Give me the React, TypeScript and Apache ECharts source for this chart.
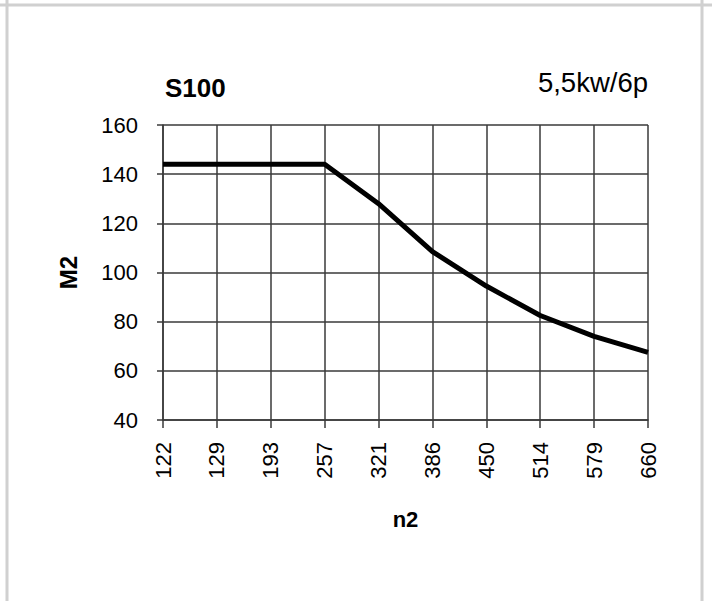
import React, { useEffect, useRef } from "react";
import * as echarts from "echarts";

const categories = ["122", "129", "193", "257", "321", "386", "450", "514", "579", "660"];
const m2Values = [144, 144, 144, 144, 128, 108.5, 94.5, 82.5, 74, 67.5];
const yMin = 40;
const yMax = 160;
const yStep = 20;
const titleLeft = "S100";
const titleRight = "5,5kw/6p";
const xName = "n2";
const yName = "M2";

const FONT = "Liberation Sans, Arial, sans-serif";

export default function App() {
  const ref = useRef<HTMLDivElement>(null);
  useEffect(() => {
    if (!ref.current) return;
    const chart = echarts.init(ref.current, undefined, { renderer: "svg" });
    const gridColor = "#3a3a3a";
    chart.setOption({
      animation: false,
      backgroundColor: "#ffffff",
      textStyle: { fontFamily: FONT },
      title: [
        {
          text: titleLeft,
          left: 165,
          top: 75,
          padding: 0,
          textStyle: { fontFamily: FONT, fontSize: 26, fontWeight: "bold", color: "#000" },
        },
        {
          text: titleRight,
          right: 64,
          top: 68,
          padding: 0,
          textStyle: { fontFamily: FONT, fontSize: 27.5, fontWeight: "normal", color: "#000" },
        },
      ],
      grid: { left: 163, right: 64, top: 125, bottom: 181, containLabel: false },
      xAxis: {
        type: "category",
        data: categories,
        boundaryGap: false,
        name: xName,
        nameLocation: "middle",
        nameGap: 88,
        nameTextStyle: { fontFamily: FONT, fontSize: 22, fontWeight: "bold", color: "#000" },
        axisLine: { show: true, lineStyle: { color: gridColor, width: 1.5 } },
        axisTick: { show: true, length: 8, interval: 0, lineStyle: { color: gridColor, width: 1.5 } },
        axisLabel: { rotate: 90, fontSize: 22, color: "#000", margin: 22, interval: 0, fontFamily: FONT },
        splitLine: { show: true, interval: 0, lineStyle: { color: gridColor, width: 1.5 } },
      },
      yAxis: {
        type: "value",
        min: yMin,
        max: yMax,
        interval: yStep,
        name: yName,
        nameLocation: "middle",
        nameGap: 83,
        nameRotate: 90,
        nameTextStyle: { fontFamily: FONT, fontSize: 24, fontWeight: "bold", color: "#000" },
        axisLine: { show: true, lineStyle: { color: gridColor, width: 1.5 } },
        axisTick: { show: true, length: 6, lineStyle: { color: gridColor, width: 1.5 } },
        axisLabel: { fontSize: 22, color: "#000", margin: 25, fontFamily: FONT },
        splitLine: { show: true, lineStyle: { color: gridColor, width: 1.5 } },
      },
      series: [
        {
          type: "line",
          data: m2Values,
          symbol: "none",
          lineStyle: { color: "#000", width: 5 },
          z: 5,
        },
      ],
      graphic: [
        { type: "line", shape: { x1: 0, y1: 5, x2: 712, y2: 5 }, style: { stroke: "#d0d0d0", lineWidth: 3 } },
        { type: "line", shape: { x1: 7, y1: 0, x2: 7, y2: 601 }, style: { stroke: "#d0d0d0", lineWidth: 3 } },
        { type: "line", shape: { x1: 702, y1: 0, x2: 702, y2: 601 }, style: { stroke: "#d0d0d0", lineWidth: 3 } },
      ],
    });
    return () => chart.dispose();
  }, []);
  return (
    <div
      ref={ref}
      style={{ position: "absolute", left: 0, top: 0, width: 712, height: 601 }}
    />
  );
}
